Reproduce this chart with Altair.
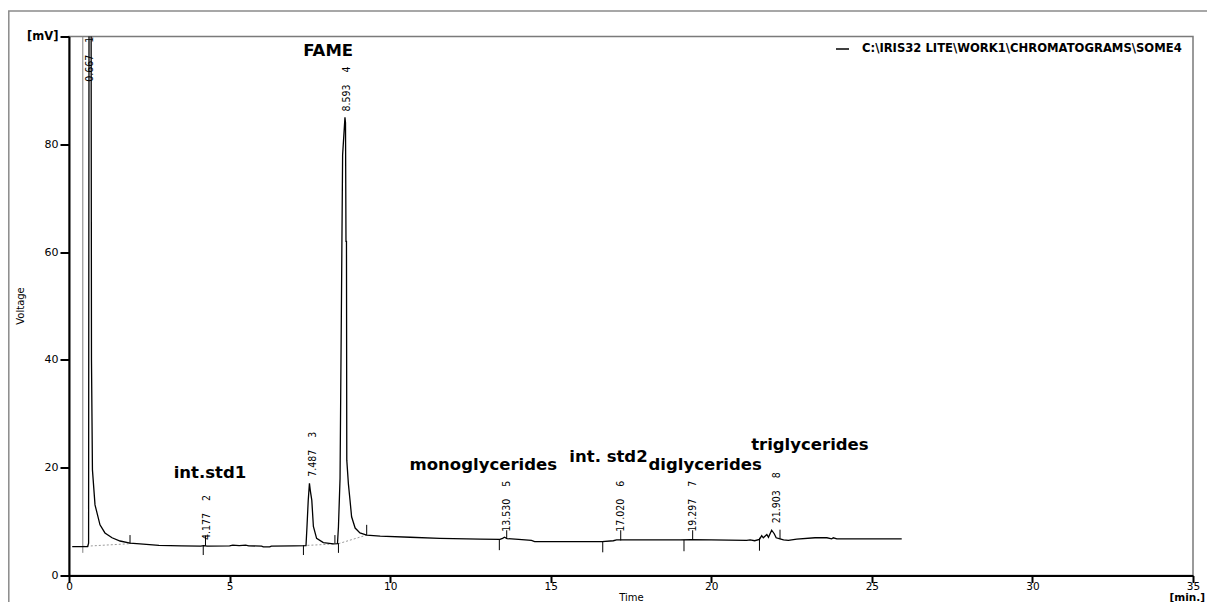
import altair as alt
import pandas as pd

# ---------------- data ----------------
series_name = r"C:\IRIS32 LITE\WORK1\CHROMATOGRAMS\SOME4"

time = [0.10, 0.58, 0.61, 0.63, 0.68, 0.70, 0.73, 0.81, 0.965, 1.12, 1.34, 1.59, 1.90, 2.21,
        2.80, 3.50, 4.10, 4.20, 4.30, 5.00, 5.10, 5.30, 5.50, 5.60, 6.00, 6.05, 6.25, 6.30,
        7.00, 7.38, 7.41, 7.45, 7.487, 7.52, 7.56, 7.61, 7.71, 7.92, 8.23, 8.36, 8.39, 8.44,
        8.48, 8.52, 8.593, 8.61, 8.625, 8.64, 8.65, 8.70, 8.75, 8.80, 8.91, 9.06, 9.27, 9.69,
        10.62, 11.55, 12.80, 13.42, 13.50, 13.56, 13.64, 14.00, 14.40, 14.50, 15.50, 16.60,
        16.95, 17.05, 17.20, 18.00, 19.03, 19.35, 20.00, 21.10, 21.21, 21.35, 21.50, 21.57,
        21.62, 21.73, 21.78, 21.88, 21.96, 22.02, 22.14, 22.25, 22.40, 22.66, 23.23, 23.60,
        23.75, 23.80, 23.91, 25.93]
voltage = [5.35, 5.35, 6.0, 150, 150, 40.0, 19.6, 13.1, 9.4, 7.9, 7.0, 6.4, 6.0, 5.85,
           5.6, 5.5, 5.45, 5.55, 5.45, 5.5, 5.65, 5.55, 5.65, 5.5, 5.45, 5.3, 5.3, 5.45,
           5.5, 5.55, 9.0, 14.0, 17.1, 15.5, 14.0, 9.1, 6.9, 6.1, 5.85, 5.9, 9.0, 18.0,
           48.0, 78.0, 85.0, 84.0, 62.0, 62.0, 21.4, 17.0, 14.0, 10.9, 8.8, 7.9, 7.5, 7.3,
           7.1, 6.9, 6.75, 6.7, 6.9, 7.1, 6.85, 6.7, 6.5, 6.3, 6.3, 6.3,
           6.45, 6.6, 6.6, 6.6, 6.6, 6.65, 6.6, 6.5, 6.6, 6.45, 6.7, 7.4,
           7.0, 7.6, 7.1, 8.4, 7.75, 7.0, 6.8, 6.6, 6.5, 6.75, 7.0, 7.0,
           6.8, 7.0, 6.8, 6.8]

# peak start / end tick marks
marker_time = [1.90, 4.18, 4.25, 7.30, 8.28, 8.39, 9.27, 13.40, 13.63, 16.62, 17.18, 19.15, 19.42, 21.50, 22.14]
marker_low = [5.9, 3.8, 5.5, 3.8, 6.0, 4.2, 7.5, 4.7, 6.8, 4.3, 6.5, 4.5, 6.6, 4.6, 6.8]
marker_high = [7.5, 5.6, 7.4, 5.6, 7.5, 6.0, 9.4, 6.7, 8.4, 6.3, 8.4, 6.6, 8.4, 7.0, 8.5]

# injection / solvent marker
inject_time = [0.43]
inject_low = [4.2]
inject_high = [100]

# dotted baselines
base_t0 = [0.43, 7.30, 8.39]
base_v0 = [5.4, 5.55, 5.9]
base_t1 = [1.90, 8.28, 9.27]
base_v1 = [5.9, 5.85, 7.5]

# peak annotations
peak_rt = ["0.667", "4.177", "7.487", "8.593", "13.530", "17.020", "19.297", "21.903"]
peak_no = ["1", "2", "3", "4", "5", "6", "7", "8"]
label_time = [0.65, 4.31, 7.59, 8.66, 13.63, 17.18, 19.42, 22.04]
label_start = [91.6, 6.6, 18.3, 86.1, 8.1, 8.1, 8.1, 9.7]

# compound names
compound_names = ["FAME", "int.std1", "monoglycerides", "int. std2", "diglycerides", "triglycerides"]
compound_time = [8.07, 4.39, 12.90, 16.80, 19.81, 23.07]
compound_volt = [96.3, 18.1, 19.5, 21.0, 19.5, 23.2]

x_ticks = [0, 5, 10, 15, 20, 25, 30, 35]
y_ticks = [0, 20, 40, 60, 80, 100]

# ---------------- tables ----------------
trace = pd.DataFrame({"time": time, "voltage": voltage, "series": series_name})
markers = pd.DataFrame({"time": marker_time, "voltage": marker_low, "hi": marker_high})
inject = pd.DataFrame({"time": inject_time, "voltage": inject_low, "hi": inject_high})
bases = pd.DataFrame({"time": base_t0, "voltage": base_v0, "t1": base_t1, "v1": base_v1})
peaks = pd.DataFrame({"time": label_time, "voltage": label_start,
                      "txt": [r + "\u00a0" * 4 + n for r, n in zip(peak_rt, peak_no)]})
compounds = pd.DataFrame({"time": compound_time, "voltage": compound_volt, "name": compound_names})
one = pd.DataFrame({"a": [0]})

xs = alt.Scale(domain=[0, 35], nice=False, zero=False)
ys = alt.Scale(domain=[0, 100], nice=False, zero=False)

x_axis = alt.Axis(values=x_ticks, title="Time", grid=False, labelFont="DejaVu Sans",
                  labelFontSize=10.5, labelColor="black", tickSize=7, tickWidth=2,
                  tickColor="black", labelPadding=-1, labelFlush=False,
                  domainColor="black", domainWidth=2,
                  titleFont="DejaVu Sans", titleFontSize=10, titleFontWeight="normal",
                  titleColor="black", titleBaseline="alphabetic", titleY=25)
y_axis = alt.Axis(values=y_ticks, title="Voltage", grid=False,
                  labelExpr="datum.value == 100 ? '[mV]' : datum.label",
                  labelFont="DejaVu Sans", labelFlush=False,
                  labelFontSize={"condition": {"test": "datum.value == 100", "value": 11.5}, "value": 11},
                  labelFontWeight={"condition": {"test": "datum.value == 100", "value": "bold"}, "value": "normal"},
                  labelColor="black", tickSize=9, tickWidth=2, tickColor="black",
                  labelPadding=2, domainColor="black", domainWidth=2,
                  titleFont="DejaVu Sans", titleFontSize=10, titleFontWeight="normal",
                  titleColor="black", titleX=-49, titleY=269, titleBaseline="middle",
                  titleAngle=270, titleAlign="center")

X = alt.X("time:Q", scale=xs, axis=x_axis)
Y = alt.Y("voltage:Q", scale=ys, axis=y_axis)

frame = alt.Chart(one).mark_rect(filled=False, stroke="#8a8a8a", strokeWidth=1.5).encode(
    x=alt.value(-60.2), x2=alt.value(1400), y=alt.value(-25.5), y2=alt.value(900))

base_layer = alt.Chart(bases).mark_rule(color="#9a9a9a", strokeDash=[2, 2], strokeWidth=1).encode(
    x=X, x2="t1:Q", y=Y, y2="v1:Q")

marker_layer = alt.Chart(markers).mark_rule(color="black", strokeWidth=1).encode(
    x=X, y=Y, y2="hi:Q")

inject_layer = alt.Chart(inject).mark_rule(color="#808080", strokeWidth=1).encode(
    x=X, y=Y, y2="hi:Q")

line_layer = alt.Chart(trace).mark_line(clip=True, strokeWidth=1.3, interpolate="linear").encode(
    x=X, y=Y,
    color=alt.Color("series:N", scale=alt.Scale(range=["black"]),
                    legend=alt.Legend(title=None, orient="none", legendX=766, legendY=5,
                                      symbolType="stroke", symbolSize=169, symbolStrokeWidth=1.5,
                                      labelFont="DejaVu Sans", labelFontSize=11.6,
                                      labelFontWeight="bold", labelColor="black",
                                      labelLimit=700, labelOffset=12, padding=0)))

peak_layer = alt.Chart(peaks).mark_text(
    angle=270, align="left", baseline="middle", fontSize=10.5,
    font="Liberation Sans Narrow, DejaVu Sans Condensed, sans-serif", color="black").encode(
    x=X, y=Y, text="txt:N")

compound_layer = alt.Chart(compounds).mark_text(
    align="center", baseline="alphabetic", fontSize=16.5, fontWeight="bold",
    font="DejaVu Sans", color="black").encode(
    x=X, y=Y, text="name:N")

unit_layer = alt.Chart(one).mark_text(
    align="right", baseline="alphabetic", fontSize=10.5, fontWeight="bold",
    font="DejaVu Sans", color="black", text="[min.]").encode(
    x=alt.value(1136), y=alt.value(564))

chart = alt.layer(frame, base_layer, marker_layer, inject_layer, line_layer,
                  peak_layer, compound_layer, unit_layer).properties(
    width=1124, height=539,
    autosize=alt.AutoSizeParams(type="none"),
    padding={"left": 61, "top": 28.5, "right": 14, "bottom": 26.5},
    background="white",
).configure_view(stroke="#7a7a7a", strokeWidth=1.5)

chart.save("out.html", embed_options={"renderer": "svg", "actions": False})
